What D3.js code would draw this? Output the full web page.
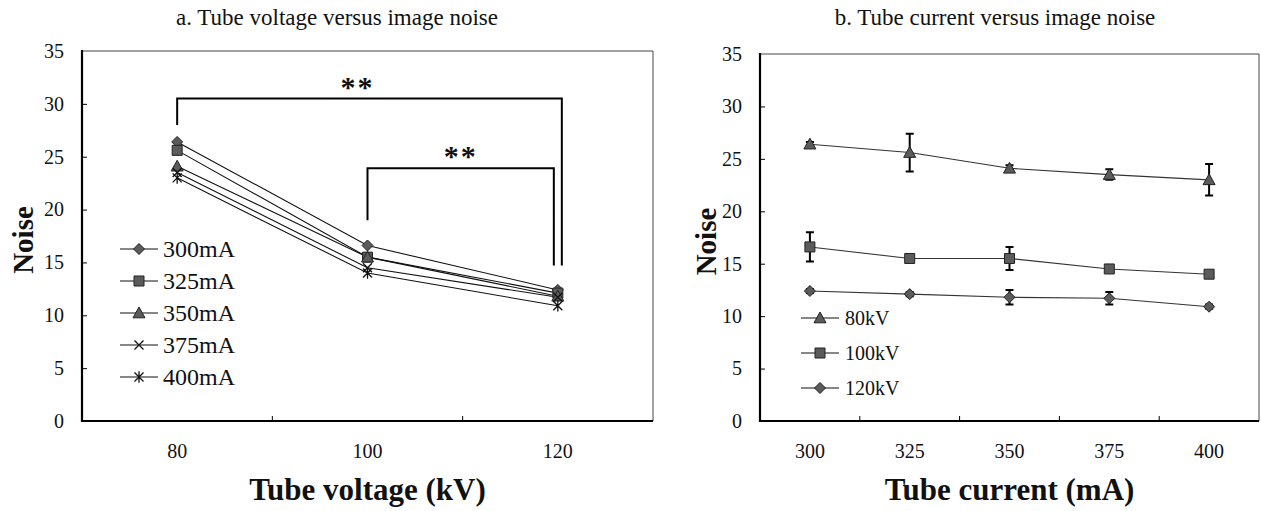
<!DOCTYPE html>
<html>
<head>
<meta charset="utf-8">
<script src="https://cdn.jsdelivr.net/npm/d3@7"></script>
<style>
  body { margin: 0; background: #fff; }
  svg { display: block; }
  text { font-family: "Liberation Serif", "Times New Roman", serif; fill: #111; }
</style>
</head>
<body>
<svg id="chart" width="1261" height="511"></svg>
<script>
// ---- data ----
const currents = ["300", "325", "350", "375", "400"];
const currentLabels = ["300mA", "325mA", "350mA", "375mA", "400mA"];
const voltages = ["80", "100", "120"];
const voltageLabels = ["80kV", "100kV", "120kV"];
// mean noise per tube current, one array per tube voltage
const noise80  = [26.4, 25.6, 24.1, 23.5, 23.0];
const noise100 = [16.6, 15.5, 15.5, 14.5, 14.0];
const noise120 = [12.4, 12.1, 11.8, 11.7, 10.9];
// standard deviations
const sd80  = [0.2, 1.8, 0.3, 0.5, 1.5];
const sd100 = [1.4, 0.2, 1.1, 0.2, 0.2];
const sd120 = [0.2, 0.2, 0.7, 0.6, 0.2];
const yTicks = [0, 5, 10, 15, 20, 25, 30, 35];
// significance brackets (voltage pairs, bracket height, leg bottoms)
const bracketPairs = [["80", "120"], ["100", "120"]];
const bracketLevels = [30.5, 23.9];
const bracketLegLeft = [28.0, 19.0];
const bracketLegRight = [14.7, 14.7];
const bracketMarks = ["**", "**"];

const titleA = "a. Tube voltage versus image noise";
const titleB = "b. Tube current versus image noise";

const svg = d3.select("#chart");

// ---- marker shapes ----
function markerPath(type) {
  const p = d3.path();
  if (type === "diamond") {
    const s = 5.5;
    p.moveTo(0, -s); p.lineTo(s, 0); p.lineTo(0, s); p.lineTo(-s, 0); p.closePath();
  } else if (type === "square") {
    const s = 5;
    p.rect(-s, -s, 2 * s, 2 * s);
  } else if (type === "triangle") {
    const s = 6;
    p.moveTo(0, -s); p.lineTo(s, s * 0.8); p.lineTo(-s, s * 0.8); p.closePath();
  } else if (type === "cross") {
    const s = 4.5;
    p.moveTo(-s, -s); p.lineTo(s, s); p.moveTo(-s, s); p.lineTo(s, -s);
  } else if (type === "star") {
    const s = 4.5;
    p.moveTo(-s, -s); p.lineTo(s, s); p.moveTo(-s, s); p.lineTo(s, -s);
    p.moveTo(0, -s * 1.3); p.lineTo(0, s * 1.3);
  }
  return p.toString();
}
function drawMarker(g, type, x, y) {
  const open = type === "cross" || type === "star";
  g.append("path")
    .attr("d", markerPath(type))
    .attr("transform", `translate(${x},${y})`)
    .attr("fill", open ? "none" : "#5b5b5b")
    .attr("stroke", open ? "#111" : "#222")
    .attr("stroke-width", open ? 1.3 : 1);
}

// ---- frame + axes helper ----
function drawFrame(g, x0, x1, y0, y1) {
  g.append("line").attr("x1", x0).attr("x2", x1).attr("y1", y0).attr("y2", y0)
    .attr("stroke", "#444").attr("stroke-width", 1);
  g.append("line").attr("x1", x1).attr("x2", x1).attr("y1", y0).attr("y2", y1)
    .attr("stroke", "#444").attr("stroke-width", 1);
  g.append("line").attr("x1", x0).attr("x2", x0).attr("y1", y0 - 1).attr("y2", y1 + 1)
    .attr("stroke", "#000").attr("stroke-width", 2.2);
  g.append("line").attr("x1", x0 - 1).attr("x2", x1).attr("y1", y1).attr("y2", y1)
    .attr("stroke", "#000").attr("stroke-width", 2.2);
}

function styleTickText(sel) {
  sel.style("font-family", "'Liberation Serif', 'Times New Roman', serif")
    .style("font-size", "20px")
    .style("fill", "#111");
}

function drawAxes(g, x, y, xLabel, yLabelX) {
  const [x0, x1] = x.range();
  const [yb, yt] = y.range();
  // y axis with inward ticks
  const ya = g.append("g").attr("transform", `translate(${x0},0)`)
    .call(d3.axisLeft(y).tickValues(yTicks).tickSize(-5).tickPadding(18).tickFormat(d3.format("d")));
  ya.attr("font-family", null).attr("font-size", null);
  ya.select(".domain").remove();
  ya.selectAll(".tick line").attr("stroke", "#000");
  styleTickText(ya.selectAll(".tick text"));
  ya.selectAll(".tick").filter(d => d === 0 || d === 35).select("line").remove();

  // x axis labels at band centers
  const xa = g.append("g").attr("transform", `translate(0,${yb})`)
    .call(d3.axisBottom(x).tickSize(0).tickPadding(23));
  xa.attr("font-family", null).attr("font-size", null);
  xa.select(".domain").remove();
  styleTickText(xa.selectAll(".tick text"));
  // tick marks at band boundaries, pointing inward
  const dom = x.domain();
  for (let i = 1; i < dom.length; i++) {
    const bx = x(dom[i]) - (x.step() - x.bandwidth()) / 2;
    g.append("line").attr("x1", bx).attr("x2", bx).attr("y1", yb).attr("y2", yb - 5)
      .attr("stroke", "#000").attr("stroke-width", 1);
  }
  drawFrame(g, x0, x1, yt, yb);

  // axis titles
  g.append("text")
    .attr("x", (x0 + x1) / 2).attr("y", 500)
    .attr("text-anchor", "middle")
    .attr("font-size", 31).attr("font-weight", "bold")
    .text(xLabel);
  g.append("text")
    .attr("transform", `translate(${yLabelX},${(yt + yb) / 2 + 4}) rotate(-90)`)
    .attr("text-anchor", "middle")
    .attr("font-size", 29).attr("font-weight", "bold")
    .text("Noise");
}

// ================= panel a =================
{
  const g = svg.append("g");
  const x = d3.scaleBand().domain(voltages).range([82, 653]).padding(0);
  const y = d3.scaleLinear().domain([0, 35]).range([421, 51]);
  const cx = v => x(v) + x.bandwidth() / 2;

  drawAxes(g, x, y, "Tube voltage (kV)", 33);

  g.append("text").attr("x", 337).attr("y", 25).attr("text-anchor", "middle")
    .attr("font-size", 23).attr("fill", "#222").text(titleA);

  const byVoltage = [noise80, noise100, noise120];
  const shapes = ["diamond", "square", "triangle", "cross", "star"];
  const line = d3.line().x(d => cx(d.v)).y(d => y(d.n));

  currents.forEach((c, j) => {
    const pts = voltages.map((v, i) => ({ v, n: byVoltage[i][j] }));
    g.append("path").attr("d", line(pts)).attr("fill", "none")
      .attr("stroke", "#111").attr("stroke-width", 1.1);
  });
  currents.forEach((c, j) => {
    voltages.forEach((v, i) => drawMarker(g, shapes[j], cx(v), y(byVoltage[i][j])));
  });

  // significance brackets
  bracketPairs.forEach((pair, k) => {
    const xl = cx(pair[0]);
    const xr = cx(pair[1]) + (k === 0 ? 4 : -4);
    const yl = y(bracketLevels[k]);
    g.append("path")
      .attr("d", `M${xl},${y(bracketLegLeft[k])}V${yl}H${xr}V${y(bracketLegRight[k])}`)
      .attr("fill", "none").attr("stroke", "#000").attr("stroke-width", 2);
    g.append("text")
      .attr("x", (xl + xr) / 2 - (k === 0 ? 12 : 0)).attr("y", yl - 2)
      .attr("text-anchor", "middle").attr("font-size", 30)
      .attr("font-family", "DejaVu Sans").attr("font-weight", "bold")
      .attr("letter-spacing", 2)
      .text(bracketMarks[k]);
  });

  // legend
  const lg = g.append("g");
  currentLabels.forEach((lab, j) => {
    const ly = 249 + j * 32;
    lg.append("line").attr("x1", 120).attr("x2", 158).attr("y1", ly).attr("y2", ly)
      .attr("stroke", "#111").attr("stroke-width", 1.1);
    drawMarker(lg, shapes[j], 139, ly);
    lg.append("text").attr("x", 163).attr("y", ly).attr("dy", "0.35em")
      .attr("font-size", 24).text(lab);
  });
}

// ================= panel b =================
{
  const g = svg.append("g");
  const x = d3.scaleBand().domain(currents).range([760, 1259]).padding(0);
  const y = d3.scaleLinear().domain([0, 35]).range([421, 54]);
  const cx = c => x(c) + x.bandwidth() / 2;

  drawAxes(g, x, y, "Tube current (mA)", 716);

  g.append("text").attr("x", 995).attr("y", 25).attr("text-anchor", "middle")
    .attr("font-size", 23).attr("fill", "#222").text(titleB);

  const series = [
    { name: voltageLabels[0], vals: noise80, sd: sd80, shape: "triangle" },
    { name: voltageLabels[1], vals: noise100, sd: sd100, shape: "square" },
    { name: voltageLabels[2], vals: noise120, sd: sd120, shape: "diamond" }
  ];
  const line = d3.line().x((d, i) => cx(currents[i])).y(d => y(d));

  series.forEach(s => {
    g.append("path").attr("d", line(s.vals)).attr("fill", "none")
      .attr("stroke", "#333").attr("stroke-width", 1.1);
  });
  series.forEach(s => {
    s.vals.forEach((v, i) => {
      const px = cx(currents[i]);
      const top = y(v + s.sd[i]), bot = y(v - s.sd[i]);
      g.append("path")
        .attr("d", `M${px},${top}V${bot}M${px - 4},${top}H${px + 4}M${px - 4},${bot}H${px + 4}`)
        .attr("fill", "none").attr("stroke", "#000").attr("stroke-width", 2);
    });
  });
  series.forEach(s => {
    s.vals.forEach((v, i) => drawMarker(g, s.shape, cx(currents[i]), y(v)));
  });

  // legend
  series.forEach((s, k) => {
    const ly = 318 + k * 35;
    g.append("line").attr("x1", 801).attr("x2", 839).attr("y1", ly).attr("y2", ly)
      .attr("stroke", "#111").attr("stroke-width", 1.1);
    drawMarker(g, s.shape, 820, ly);
    g.append("text").attr("x", 845).attr("y", ly).attr("dy", "0.35em")
      .attr("font-size", 20).text(s.name);
  });
}
</script>
</body>
</html>
